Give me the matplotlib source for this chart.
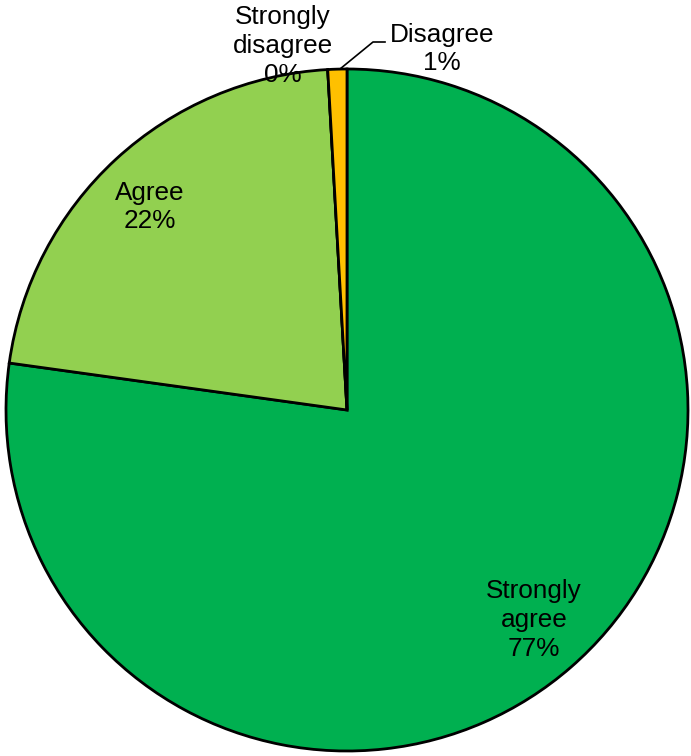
import matplotlib.pyplot as plt

labels = ['Strongly agree', 'Agree', 'Strongly disagree', 'Disagree']
values = [77.2, 21.9, 0.0, 0.9]
pct_text = ['77%', '22%', '0%', '1%']
colors = ['#00B050', '#92D050', '#FF0000', '#FFC000']

plt.rcParams['font.family'] = ['Liberation Sans', 'DejaVu Sans']

fig = plt.figure(figsize=(6.91, 7.56), dpi=100)
ax = fig.add_axes([0, 0, 1, 1])

# pixel -> data: centre (347, 410), radius 341 px
def px(x, y):
    return (x - 347) / 341.0, (410 - y) / 341.0

wedges, _ = ax.pie(values, colors=colors, startangle=90, counterclock=False,
                   radius=1.0, wedgeprops=dict(edgecolor='black', linewidth=2))

ax.set_aspect('auto')
ax.set_xlim(-347 / 341.0, (691 - 347) / 341.0)
ax.set_ylim((410 - 756) / 341.0, 410 / 341.0)
ax.axis('off')

fs = 18.8
kw = dict(ha='center', va='center', fontsize=fs, linespacing=1.26, color='black')
ax.text(*px(534, 620), 'Strongly\nagree\n' + pct_text[0], **kw)
ax.text(*px(150, 207), 'Agree\n' + pct_text[1], **kw)
ax.text(*px(283, 46), 'Strongly\ndisagree\n' + pct_text[2], **kw)
ax.text(*px(442, 49), 'Disagree\n' + pct_text[3], **kw)

# leader line for Disagree
x0, y0 = px(385, 42)
x1, y1 = px(373, 42)
x2, y2 = px(340, 69)
ax.plot([x0, x1, x2], [y0, y1, y2], color='black', linewidth=1.2)

fig.savefig('out.png', dpi=100)
